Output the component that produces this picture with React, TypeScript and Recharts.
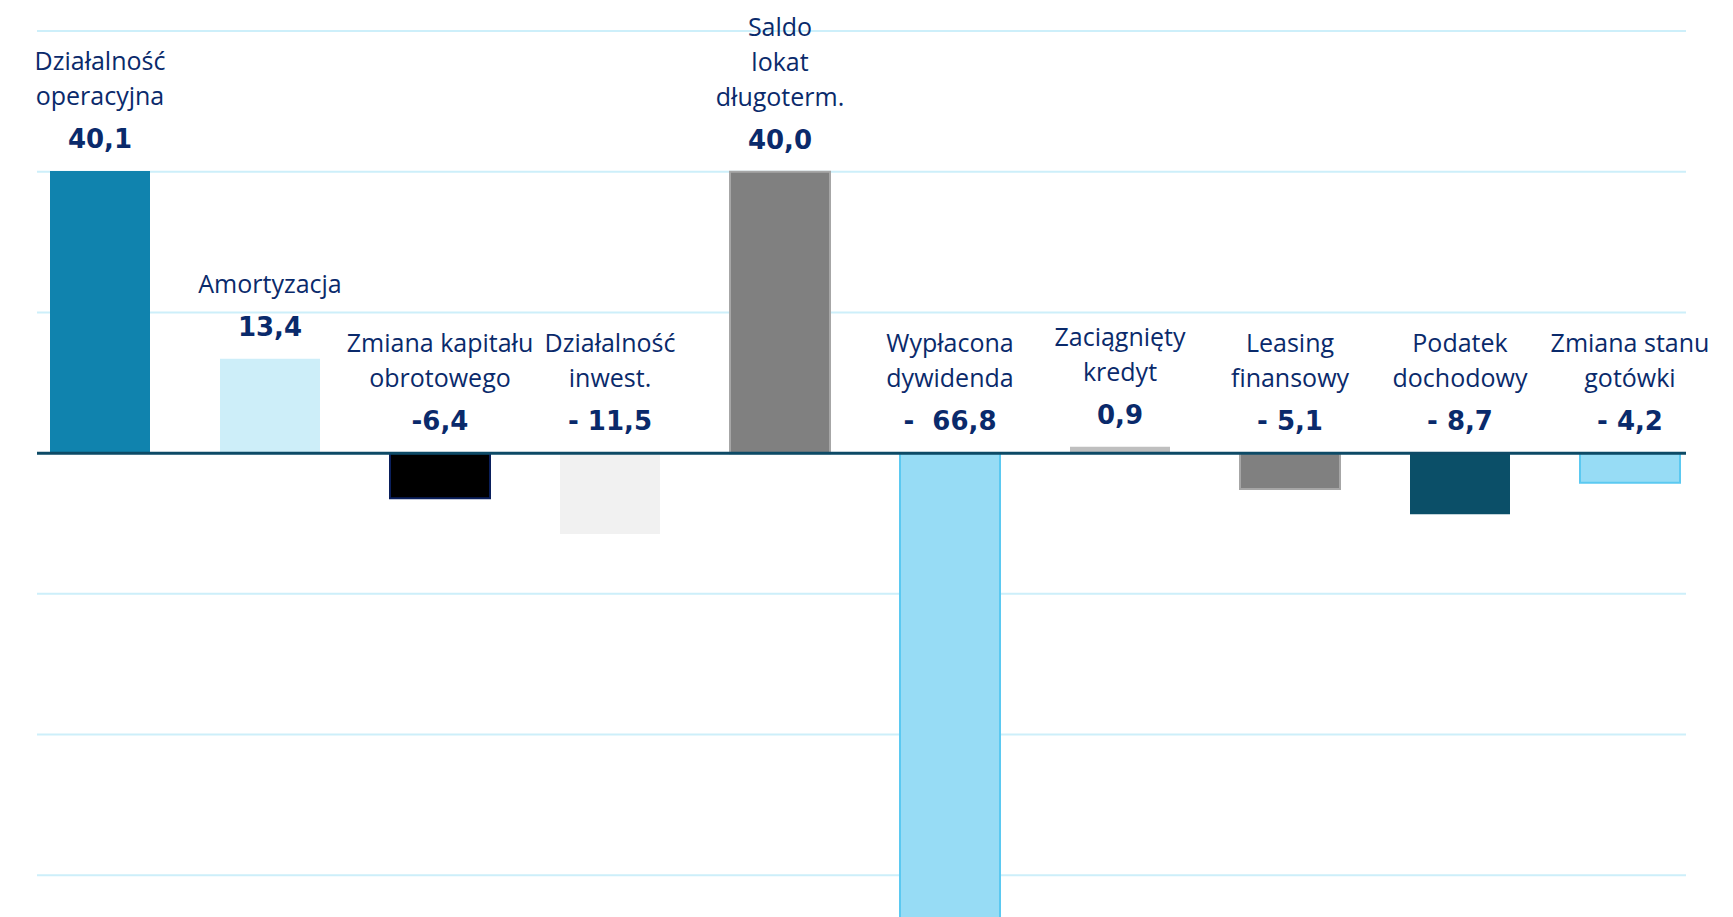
import React from 'react';
import { BarChart, Bar, XAxis, YAxis, CartesianGrid, ReferenceLine, Cell, LabelList } from 'recharts';

const categories = [
  'Działalność\noperacyjna',
  'Amortyzacja',
  'Zmiana kapitału\nobrotowego',
  'Działalność\ninwest.',
  'Saldo\nlokat\ndługoterm.',
  'Wypłacona\ndywidenda',
  'Zaciągnięty\nkredyt',
  'Leasing\nfinansowy',
  'Podatek\ndochodowy',
  'Zmiana stanu\ngotówki',
];
const values = [40.1, 13.4, -6.4, -11.5, 40.0, -66.8, 0.9, -5.1, -8.7, -4.2];
const valueLabels = ['40,1', '13,4', '-6,4', '- 11,5', '40,0', '-  66,8', '0,9', '- 5,1', '- 8,7', '- 4,2'];
const yTicks = [60, 40, 20, 0, -20, -40, -60, -80];

const fills = ['#1083AE', '#CDEEF9', '#000000', '#F1F1F1', '#808080', '#97DCF5', '#BFBFBF', '#808080', '#0B4F68', '#97DCF5'];
const strokes = ['none', 'none', '#0A1F5C', 'none', '#A6A6A6', '#5BC9F1', 'none', '#A6A6A6', 'none', '#5BC9F1'];

const data = categories.map((name, i) => ({ name, value: values[i], idx: i }));

const TEXT_COLOR = '#0A2A6B';

const renderLabel = (props: any) => {
  const { x, y, width, height, index } = props;
  const i = typeof index === 'number' ? index : 0;
  const top = Math.min(Number(y), Number(y) + Number(height));
  const cx = Number(x) + Number(width) / 2;
  const valueY = top - 32;
  const lines = categories[i].split('\n');
  return (
    <g>
      {lines.map((ln, k) => (
        <text
          key={k}
          x={cx}
          y={valueY - 44 - (lines.length - 1 - k) * 35}
          textAnchor="middle"
          dominantBaseline="central"
          fill={TEXT_COLOR}
          style={{ fontFamily: '"Open Sans", sans-serif', fontSize: 25 }}
        >
          {ln}
        </text>
      ))}
      <text
        x={cx}
        y={valueY}
        textAnchor="middle"
        dominantBaseline="central"
        fill={TEXT_COLOR}
        style={{ fontFamily: '"DejaVu Sans", sans-serif', fontSize: 26, fontWeight: 700, whiteSpace: 'pre' }}
      >
        {valueLabels[i]}
      </text>
    </g>
  );
};

export default function App() {
  return (
    <div style={{ position: 'fixed', left: 0, top: 0, width: 1733, height: 917, overflow: 'hidden', background: '#ffffff' }}>
      <BarChart
        width={1733}
        height={1030}
        data={data}
        margin={{ top: 31, right: 47, bottom: 14, left: 37 }}
      >
        <CartesianGrid vertical={false} stroke="#CDEFFA" strokeWidth={2} />
        <XAxis dataKey="name" hide padding={{ left: -22, right: -29 }} />
        <YAxis hide domain={[-80, 60]} ticks={yTicks} type="number" allowDataOverflow />
        <ReferenceLine y={0} stroke="#0D4A66" strokeWidth={3} />
        <Bar dataKey="value" barSize={100} isAnimationActive={false}>
          {data.map((d, i) => (
            <Cell
              key={i}
              fill={fills[i]}
              stroke={strokes[i]}
              strokeWidth={strokes[i] === 'none' ? 0 : 2}
            />
          ))}
          <LabelList dataKey="value" content={renderLabel} />
        </Bar>
      </BarChart>
    </div>
  );
}
